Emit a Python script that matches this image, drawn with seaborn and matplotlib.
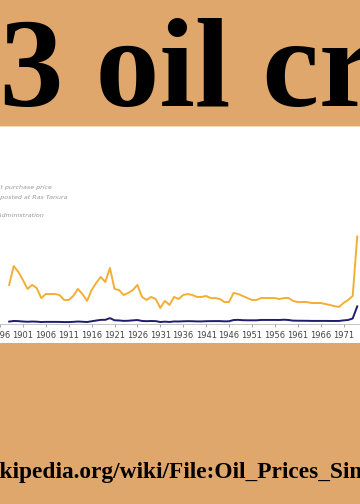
import numpy as np
import pandas as pd
import seaborn as sns
import matplotlib.pyplot as plt
from matplotlib.patches import Rectangle

years = list(range(1898, 1975))
# price in constant dollars (orange) and in money of the day (blue)
real_price = [23.8, 35.6, 31.9, 26.9, 21.3, 23.8, 21.9, 15.6, 18.1, 18.1,
              18.1, 17.5, 14.4, 14.4, 16.9, 21.3, 18.1, 13.8, 20.6, 25.0,
              28.8, 25.6, 34.4, 21.3, 20.6, 17.5, 18.8, 20.6, 23.8, 16.3,
              14.4, 16.3, 15.0, 9.4, 13.8, 11.3, 16.3, 15.0, 17.5, 18.1,
              17.5, 16.3, 16.3, 16.9, 15.6, 15.6, 15.0, 13.1, 13.1, 18.8,
              18.1, 16.9, 15.6, 14.4, 14.4, 15.6, 15.6, 15.6, 15.6, 15.0,
              15.6, 15.6, 13.8, 13.1, 13.1, 13.1, 12.5, 12.5, 12.5, 11.9,
              11.3, 10.6, 10.0, 12.5, 14.4, 16.9, 54.0]
nominal_price = [0.91, 1.29, 1.19, 0.96, 0.80, 0.94, 0.86, 0.62, 0.73, 0.72,
                 0.72, 0.70, 0.61, 0.61, 0.74, 0.95, 0.81, 0.64, 1.10, 1.56,
                 1.98, 2.01, 3.07, 1.73, 1.61, 1.34, 1.43, 1.68, 1.88, 1.30,
                 1.17, 1.27, 1.19, 0.65, 0.87, 0.67, 1.00, 0.97, 1.09, 1.18,
                 1.13, 1.02, 1.02, 1.14, 1.19, 1.20, 1.21, 1.05, 1.12, 1.90,
                 1.99, 1.78, 1.71, 1.71, 1.71, 1.93, 1.93, 1.93, 1.93, 1.90,
                 2.08, 1.90, 1.50, 1.45, 1.42, 1.40, 1.33, 1.33, 1.33, 1.33,
                 1.30, 1.28, 1.30, 1.65, 1.90, 2.83, 10.41]
tick_years = list(range(1896, 1976, 5))

title = "1973 oil crisis"
source = "http://en.wikipedia.org/wiki/File:Oil_Prices_Since_1861.svg"
notes = ["Domestic crude oil first purchase price",
         "Arabian Light posted at Ras Tanura",
         "Source: Energy Information Administration"]

df = pd.DataFrame({
    "year": years * 2,
    "price": real_price + nominal_price,
    "series": ["real"] * len(years) + ["nominal"] * len(years),
})

W, H = 360, 504
bg = "#DFA76B"
fig = plt.figure(figsize=(3.6, 5.04), dpi=100, facecolor=bg)

# white panel holding the chart
fig.patches.append(Rectangle((0, (H - 343) / H), 1, (343 - 126) / H,
                             transform=fig.transFigure, facecolor="white",
                             edgecolor="none", zorder=-5))
fig.patches.append(Rectangle((0, (H - 127) / H), 1, 1.5 / H,
                             transform=fig.transFigure, facecolor="#F0D9B5",
                             edgecolor="none", zorder=-5))

ax = fig.add_axes([0, (H - 324) / H, 1, (324 - 126) / H])
ax.set_zorder(2)
ax.set_facecolor("none")
sns.lineplot(data=df, x="year", y="price", hue="series",
             palette={"real": "#F2AE36", "nominal": "#201C6E"},
             linewidth=1.4, legend=False, ax=ax)
ax.set_xlim(1897.8, 1974.6)
ax.set_ylim(-0.6, 123)
ax.set_xticks(tick_years)
ax.set_xticklabels([str(y) for y in tick_years], fontsize=6, color="#444444")
ax.tick_params(axis="x", length=2, width=0.6, color="#999999", pad=3)
ax.set_yticks([])
ax.set_xlabel("")
ax.set_ylabel("")
for s in ["top", "right", "left"]:
    ax.spines[s].set_visible(False)
ax.spines["bottom"].set_color("#BBBBBB")
ax.spines["bottom"].set_linewidth(0.6)

# small gray notes, their left parts run off the canvas
for txt, xr, yc in zip(notes, [52, 68, 44], [188, 197, 216]):
    fig.text(xr / W, (H - yc) / H, txt, ha="right", va="center",
             fontsize=4.6, color="#999999", style="italic")

renderer = fig.canvas.get_renderer()


def prefix_width(prefix, **kw):
    t = fig.text(0, 0, prefix, **kw)
    w = t.get_window_extent(renderer).width
    t.remove()
    return w


tkw = dict(fontsize=92, fontweight="bold", family="Liberation Serif")
off = prefix_width("197", **tkw)
fig.text(-off / W, (H - 106) / H, title, ha="left", va="baseline",
         color="black", **tkw)

skw = dict(fontsize=16.8, fontweight="bold", family="Liberation Serif")
off = prefix_width("http://en.wi", **skw)
fig.text(-off / W, (H - 478) / H, source, ha="left", va="baseline",
         color="black", **skw)

fig.savefig("out.png", dpi=100, facecolor=bg)
